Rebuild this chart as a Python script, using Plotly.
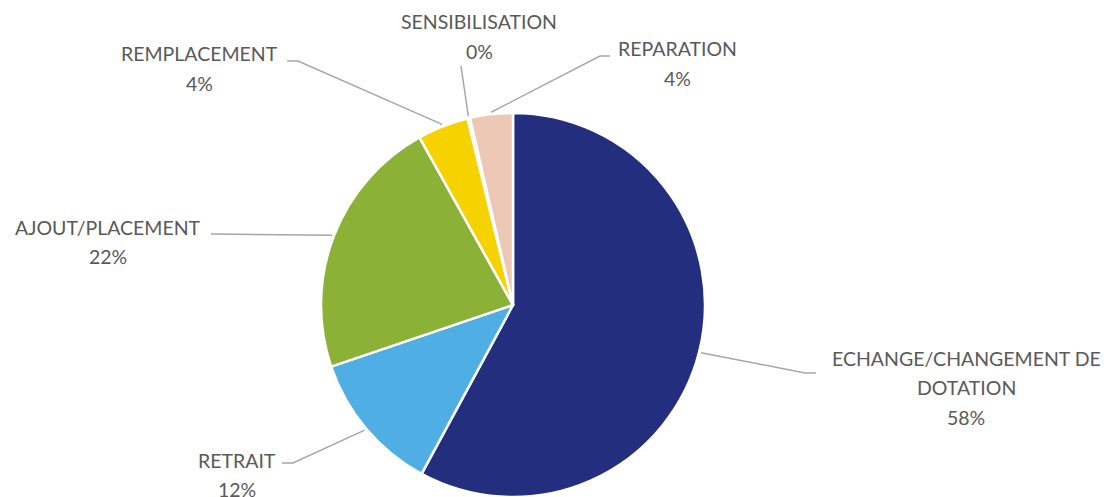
import math
import plotly.graph_objects as go

# ---- data ----
categories = ["ECHANGE/CHANGEMENT DE<br>DOTATION", "RETRAIT", "AJOUT/PLACEMENT",
              "REMPLACEMENT", "SENSIBILISATION", "REPARATION"]
values = [57.9, 11.9, 22.1, 4.3, 0.2, 3.6]
colors = ["#232E7F", "#4FAEE3", "#8BB137", "#F5D200", "#F2F2F2", "#EDC9B5"]

OFF = 8  # page body margin
W, H = 1113 - OFF, 497 - OFF
CX, CY, R = 513, 305, 192

# label layout (pixel positions: center x, first line y, line step) and leader elbows
label_pos = [(966, 358, 29.5), (237, 460, 29), (108, 227, 30), (199, 53, 30), (479, 22, 30), (677, 48, 30)]
elbows = [
    [(816, 373), (805, 373)],
    [(282, 463), (293, 463)],
    [(211, 234)],
    [(287, 61), (298, 61)],
    [(461, 66)],
    [(610, 56), (600, 56)],
]

def px(x):
    return (x - OFF) / W

def py(y):
    return 1 - (y - OFF) / H

fig = go.Figure(go.Pie(
    labels=[c.replace("<br>", " ") for c in categories],
    values=values,
    sort=False,
    direction="clockwise",
    rotation=0,
    textinfo="none",
    hoverinfo="label+percent",
    marker=dict(colors=colors, line=dict(color="white", width=2.5)),
    domain=dict(x=[px(CX - R), px(CX + R)], y=[max(0, py(CY + R)), py(CY - R)]),
    showlegend=False,
))

total = sum(values)
cum = 0.0
shapes = []
annotations = []
font = dict(family="Lato, Open Sans, sans-serif", size=19.5, color="#595959")
for i, v in enumerate(values):
    mid = (cum + v / 2) / total * 2 * math.pi
    cum += v
    ex = CX + (R + 2) * math.sin(mid)
    ey = CY - (R + 2) * math.cos(mid)
    pts = elbows[i] + [(ex, ey)]
    path = "M " + " L ".join(f"{px(x)},{py(y)}" for x, y in pts)
    shapes.append(dict(type="path", path=path, xref="paper", yref="paper",
                       line=dict(color="#A6A6A6", width=1.5)))
    cx, y0, step = label_pos[i]
    pct = f"{round(v / total * 100):d}%"
    lines = categories[i].split("<br>") + [pct]
    for k, t in enumerate(lines):
        annotations.append(dict(x=px(cx), y=py(y0 + k * step), xref="paper", yref="paper",
                                text=t, showarrow=False, xanchor="center", yanchor="middle",
                                font=font))

fig.update_layout(
    width=W, height=H,
    margin=dict(l=0, r=0, t=0, b=0),
    paper_bgcolor="white", plot_bgcolor="white",
    shapes=shapes, annotations=annotations,
)

fig.write_html("out.html")
